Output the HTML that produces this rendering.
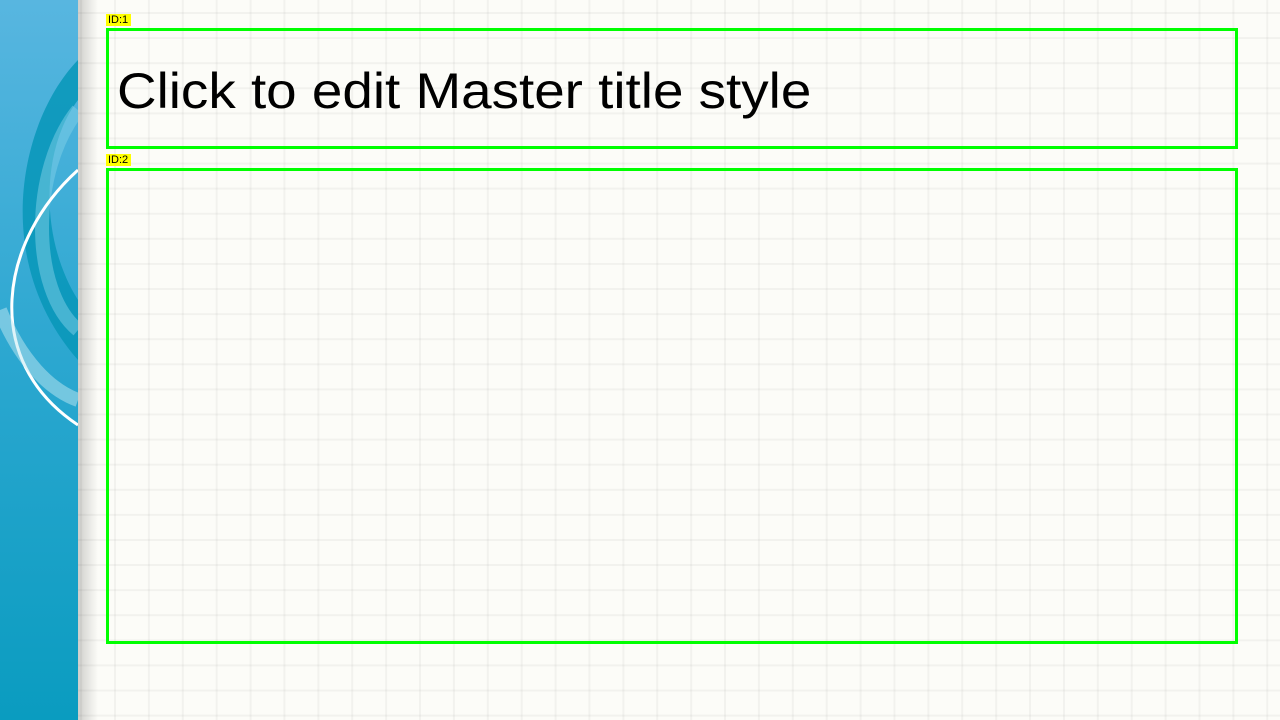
<!DOCTYPE html>
<html><head><meta charset="utf-8"><style>
html,body{margin:0;padding:0}
body{width:1280px;height:720px;position:relative;overflow:hidden;background:#fcfcf8;font-family:"Liberation Sans",sans-serif}
.grid{position:absolute;left:0;top:0;width:1280px;height:720px;
background-image:linear-gradient(to right,rgba(0,0,0,0.04) 2px,transparent 2px),linear-gradient(to bottom,rgba(0,0,0,0.04) 2px,transparent 2px);
background-size:33.9px 25.1px;background-position:114px 12px}
.shadow{position:absolute;left:78px;top:0;width:20px;height:720px;background:linear-gradient(to right,rgba(0,0,0,0.18),rgba(0,0,0,0))}
.panel{position:absolute;left:0;top:0;width:78px;height:720px;overflow:hidden;background:linear-gradient(to bottom,#58b6e0,#2ba7d0 50%,#0a9cc0)}
.box{position:absolute;border:3px solid #00ff00;box-sizing:border-box}
.lab{position:absolute;background:#ffff00;font-size:11px;line-height:12px;padding:0 3px 0 2px;color:#000}
</style></head><body>
<div class="grid"></div>
<div class="shadow"></div>
<div class="panel">
<svg width="78" height="720">
<path d="M78 60 C20 120 -10 260 78 360 L78 300 C40 240 40 150 78 100Z" fill="#0796b8" opacity="0.85"/>
<path d="M78 110 C30 170 30 290 78 330" stroke="#7fd0e8" stroke-width="14" fill="none" opacity="0.5"/>
<path d="M78 170 C0 240 -20 360 78 425" stroke="#ffffff" stroke-width="3" fill="none"/>
<path d="M0 310 C20 360 50 390 78 400" stroke="#bfe8f2" stroke-width="14" fill="none" opacity="0.5"/>
</svg>
</div>
<div class="lab" style="left:106px;top:14px">ID:1</div>
<div class="box" style="left:106px;top:28px;width:1132px;height:121px"></div>
<div style="position:absolute;left:117px;top:62px;font-size:50px;line-height:58px;color:#000;transform:scaleX(1.096);transform-origin:0 0;white-space:nowrap">Click to edit Master title style</div>
<div class="lab" style="left:106px;top:154px">ID:2</div>
<div class="box" style="left:106px;top:168px;width:1132px;height:476px"></div>
</body></html>
